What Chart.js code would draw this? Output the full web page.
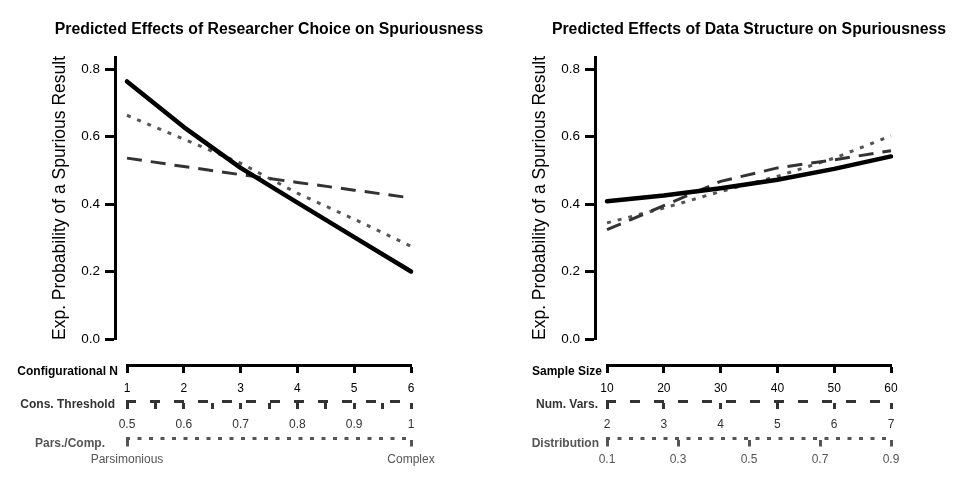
<!DOCTYPE html>
<html>
<head>
<meta charset="utf-8">
<script src="https://cdn.jsdelivr.net/npm/chart.js@4.4.1/dist/chart.umd.min.js"></script>
<style>
  html, body { margin: 0; padding: 0; background: #fff; }
  #wrap { position: relative; width: 960px; height: 480px; overflow: hidden; }
  canvas { display: block; position: absolute; top: 0; }
  #choiceChart { left: 0; }
  #structureChart { left: 480px; }
</style>
</head>
<body>
<div id="wrap">
  <canvas id="choiceChart" width="500" height="480"></canvas>
  <canvas id="structureChart" width="480" height="480"></canvas>
</div>
<script>
// y axis (both panels)
const yTicks = [0, 0.2, 0.4, 0.6, 0.8];

// left panel: researcher choices
const configN = [1, 2, 3, 4, 5, 6];
const consTicks = [0.5, 0.55, 0.6, 0.65, 0.7, 0.75, 0.8, 0.85, 0.9, 0.95, 1];
const consTickLabels = ["0.5", "", "0.6", "", "0.7", "", "0.8", "", "0.9", "", "1"];
const parsTicks = [0, 1];
const parsTickLabels = ["Parsimonious", "Complex"];
const choiceConfigN = [0.763, 0.628, 0.507, 0.404, 0.302, 0.200];
const choiceCons = [0.536, 0.511, 0.487, 0.464, 0.441, 0.418];
const choicePars = [0.663, 0.592, 0.521, 0.432, 0.355, 0.275];

// right panel: data structure
const sampleSize = [10, 20, 30, 40, 50, 60];
const numVarsTicks = [2, 3, 4, 5, 6, 7];
const distTicks = [0.1, 0.3, 0.5, 0.7, 0.9];
const structSample = [0.408, 0.425, 0.447, 0.472, 0.504, 0.541];
const structVars = [0.324, 0.395, 0.467, 0.507, 0.531, 0.558];
const structDist = [0.344, 0.388, 0.437, 0.482, 0.536, 0.602];

Chart.defaults.font.family = "'Liberation Sans', Arial, sans-serif";
Chart.defaults.color = "#000";

const FONT = "'Liberation Sans', Arial, sans-serif";

// force box sizes and drop label overhang padding
const fixBox = (w, h) => s => {
  if (w != null) s.width = w;
  if (h != null) s.height = h;
  s.paddingLeft = s.paddingRight = s.paddingTop = s.paddingBottom = 0;
};
const setTicks = vals => s => { s.ticks = vals.map(v => ({ value: v })); };

// chart.js ignores border.dash for the axis line itself, so set it around drawBorder
const dashBorder = dash => s => {
  if (!dash.length || s._dashed) return;
  const draw = s.drawBorder;
  s.drawBorder = function () {
    this.ctx.save();
    this.ctx.setLineDash(dash);
    draw.call(this);
    this.ctx.restore();
  };
  s._dashed = true;
};

// titles and axis names drawn next to the scales
const panelLabels = {
  id: "panelLabels",
  afterDraw(chart, args, opts) {
    const { ctx, chartArea } = chart;
    ctx.save();
    ctx.textBaseline = "middle";
    ctx.textAlign = "center";
    ctx.fillStyle = "#000";
    ctx.font = "bold 15.8px " + FONT;
    ctx.fillText(opts.title, (chartArea.left + chartArea.right) / 2, 30);
    ctx.textAlign = "right";
    ctx.font = "bold 12px " + FONT;
    opts.axisNames.forEach(a => {
      const s = chart.scales[a.id];
      ctx.fillStyle = a.color;
      ctx.fillText(a.text, chartArea.left - a.inset, s.top + a.dy);
    });
    ctx.restore();
  }
};

function lineSet(values, xs, style) {
  return Object.assign({
    data: xs.map((x, i) => ({ x: x, y: values[i] })),
    pointRadius: 0,
    tension: 0,
    fill: false,
    clip: false
  }, style);
}

const solidStyle = { borderColor: "#000", borderWidth: 4.5, borderCapStyle: "round", borderJoinStyle: "round" };
const dashStyle = { borderColor: "#333", borderWidth: 3, borderDash: [15, 9] };
const dotStyle = { borderColor: "#555", borderWidth: 3, borderDash: [4, 7] };

function bottomAxis(min, max, ticks, labels, color, dash, weight, padding, height) {
  return {
    type: "linear",
    position: "bottom",
    weight: weight,
    min: min,
    max: max,
    afterBuildTicks: setTicks(ticks),
    afterFit: fixBox(null, height),
    afterUpdate: dashBorder(dash),
    border: { display: true, color: color, width: 3 },
    grid: { drawOnChartArea: false, drawTicks: true, tickLength: 8, tickWidth: 3, tickColor: color },
    ticks: {
      autoSkip: false,
      maxRotation: 0,
      padding: padding,
      color: color,
      font: { size: 12 },
      callback: (v, i) => labels[i]
    }
  };
}

function makeChart(id, title, xs, series, axes, names, rightPad) {
  return new Chart(document.getElementById(id), {
    type: "line",
    data: {
      datasets: [
        lineSet(series[0], xs, solidStyle),
        lineSet(series[1], xs, dashStyle),
        lineSet(series[2], xs, dotStyle)
      ]
    },
    options: {
      responsive: false,
      animation: false,
      devicePixelRatio: 1,
      layout: { padding: { left: 0, right: rightPad, top: 57, bottom: 4 } },
      plugins: {
        legend: { display: false },
        tooltip: { enabled: false },
        panelLabels: { title: title, axisNames: names }
      },
      scales: Object.assign({
        y: {
          type: "linear",
          position: "left",
          weight: 1,
          min: 0,
          max: 0.8356,
          afterBuildTicks: setTicks(yTicks),
          afterFit: fixBox(115, null),
          border: { display: true, color: "#000", width: 3 },
          grid: { drawOnChartArea: false, drawTicks: true, tickLength: 10, tickWidth: 3, tickColor: "#000" },
          ticks: { padding: 5, color: "#000", font: { size: 13.5 }, callback: v => v.toFixed(1) },
          title: {
            display: true,
            text: "Exp. Probability of a Spurious Result",
            color: "#000",
            font: { size: 17.5 },
            padding: { top: 50, bottom: 0 }
          }
        },
        yPad: {
          type: "linear", position: "left", weight: 0,
          afterFit: fixBox(12, null),
          border: { display: false }, grid: { display: false }, ticks: { display: false }
        },
        xPad: {
          type: "linear", position: "bottom", weight: 0,
          afterFit: fixBox(null, 26),
          border: { display: false }, grid: { display: false }, ticks: { display: false }
        }
      }, axes)
    },
    plugins: [panelLabels]
  });
}

makeChart("choiceChart", "Predicted Effects of Researcher Choice on Spuriousness", configN,
  [choiceConfigN, choiceCons, choicePars],
  {
    x: bottomAxis(1, 6, configN, configN.map(String), "#000", [], 1, 8, 36),
    x2: bottomAxis(0.5, 1, consTicks, consTickLabels, "#333", [10, 14], 2, 8, 37.5),
    x3: bottomAxis(0, 1, parsTicks, parsTickLabels, "#555", [4, 7.5], 3, 6, 37.5)
  },
  [
    { id: "x", text: "Configurational N", color: "#000", inset: 9, dy: 6.5 },
    { id: "x2", text: "Cons. Threshold", color: "#333", inset: 12, dy: 4 },
    { id: "x3", text: "Pars./Comp.", color: "#555", inset: 22, dy: 5.5 }
  ], 89);

makeChart("structureChart", "Predicted Effects of Data Structure on Spuriousness", sampleSize,
  [structSample, structVars, structDist],
  {
    x: bottomAxis(10, 60, sampleSize, sampleSize.map(String), "#000", [], 1, 8, 36),
    x2: bottomAxis(2, 7, numVarsTicks, numVarsTicks.map(String), "#333", [10, 14], 2, 8, 37.5),
    x3: bottomAxis(0.1, 0.9, distTicks, distTicks.map(String), "#555", [4, 7.5], 3, 6, 37.5)
  },
  [
    { id: "x", text: "Sample Size", color: "#000", inset: 5, dy: 6.5 },
    { id: "x2", text: "Num. Vars.", color: "#333", inset: 9, dy: 4 },
    { id: "x3", text: "Distribution", color: "#555", inset: 8, dy: 5.5 }
  ], 69);
</script>
</body>
</html>
